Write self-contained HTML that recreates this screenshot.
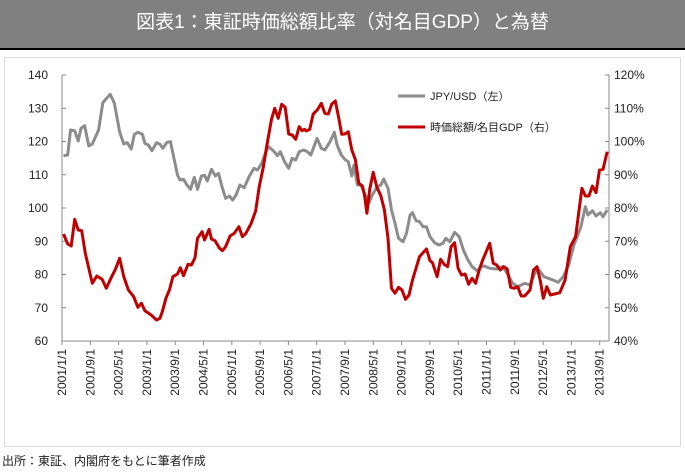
<!DOCTYPE html>
<html><head><meta charset="utf-8"><style>
body{margin:0;width:685px;height:476px;background:#fff;font-family:"Liberation Sans","Noto Sans CJK JP",sans-serif;overflow:hidden}
.t{position:absolute;left:0;top:0;width:685px;height:48px;background:#808080;border-bottom:2px solid #000;color:#fff;font-size:19px;text-align:center;line-height:46px}
.box{position:absolute;left:4px;top:57px;width:675px;height:388px;border:1px solid #d9d9d9}
.f{position:absolute;left:2px;top:452px;font-size:12px;color:#222}
</style></head><body>
<div class="t">図表1：東証時価総額比率（対名目GDP）と為替</div>
<div class="box"></div>
<svg id="s" width="685" height="476" style="position:absolute;left:0;top:0" font-family="Liberation Sans, Noto Sans CJK JP, sans-serif" font-size="12" fill="#222"></svg>
<div class="f">出所：東証、内閣府をもとに筆者作成</div>
<script>
var s=document.getElementById('s'),h='';
for(var i=0;i<=8;i++){var y=341-i*33.25;
h+='<text x="48" y="'+(y+4)+'" text-anchor="end">'+(60+i*10)+'</text>';
h+='<text x="614" y="'+(y+4)+'">'+(40+i*10)+'%</text>';
h+='<line x1="62" x2="66" y1="'+y+'" y2="'+y+'" stroke="#888"/><line x1="605" x2="609" y1="'+y+'" y2="'+y+'" stroke="#888"/>';}
h+='<line x1="62" y1="75" x2="62" y2="341" stroke="#888"/><line x1="609" y1="75" x2="609" y2="341" stroke="#888"/><line x1="62" y1="341" x2="609" y2="341" stroke="#888"/>';
for(var k=0;k<20;k++){var mm=k*8,yr=2001+Math.floor(mm/12),mo=mm%12+1;var x=62+k*28.3;
h+='<line x1="'+x+'" x2="'+x+'" y1="341" y2="345" stroke="#888"/>';
h+='<text transform="translate('+(x+4)+',349) rotate(-90)" text-anchor="end">'+yr+'/'+mo+'/1</text>';}
var g=[10,257,22,255,30,180,42,182,52,213,60,175,70,167,82,228,92,222,110,180,122,98,143,73,155,100,170,185,182,222,192,218,203,237,212,193,222,187,235,193,242,220,252,225,262,242,275,218,285,223,293,235,305,217,315,215,322,250,335,315,342,330,352,328,362,345,372,358,383,322,392,358,403,318,412,316,420,333,432,298,443,318,452,310,462,350,472,385,483,378,492,390,502,375,513,345,525,353,540,318,553,295,563,300,575,280,587,245,595,230,608,242,620,257,628,245,640,275,652,295,662,265,672,270,682,245,695,240,705,245,715,255,733,205,745,235,755,240,770,215,782,187,790,225,802,255,812,268,822,275,832,318,838,285,848,345,858,345,868,370,880,400,890,375,905,350,915,345,923,327,935,355,945,420,955,460,965,505,978,515,988,490,998,435,1005,428,1015,452,1025,455,1035,470,1045,470,1055,500,1068,518,1080,525,1092,520,1100,505,1112,515,1125,487,1138,500,1150,540,1162,568,1175,590,1190,603,1200,590,1210,588,1225,595,1245,597,1262,590,1275,610,1290,640,1305,650,1325,640,1340,645,1360,593,1380,620,1400,628,1420,637,1435,620,1450,585,1465,525,1485,470,1498,410,1505,435,1518,422,1528,438,1540,428,1548,440,1560,420];
var r=[10,492,22,522,32,528,42,448,52,480,62,482,72,550,82,595,92,640,105,618,120,628,132,655,145,625,158,598,170,565,182,620,195,660,210,680,222,712,232,700,242,722,260,735,275,750,285,745,293,720,302,685,312,660,322,620,335,612,343,593,352,617,365,583,375,585,385,563,392,505,405,485,412,510,425,478,432,507,442,512,455,535,463,542,472,530,485,498,497,490,510,470,520,500,530,490,545,460,558,422,568,350,580,290,590,225,603,148,612,115,622,145,632,103,642,112,652,192,662,195,672,208,682,170,690,182,697,178,702,183,712,178,722,132,735,118,745,100,755,130,765,132,775,102,785,93,795,145,803,193,812,192,822,185,832,240,842,268,852,340,862,348,868,375,875,430,883,358,893,307,903,350,915,378,925,420,935,505,945,655,955,670,965,652,975,660,985,688,995,675,1005,630,1015,595,1025,560,1035,548,1045,537,1055,572,1062,578,1075,620,1085,568,1095,583,1105,590,1115,530,1125,518,1135,595,1145,615,1155,612,1165,643,1175,625,1185,640,1195,600,1205,570,1215,545,1225,520,1235,580,1245,585,1255,600,1265,590,1275,597,1285,652,1295,655,1305,650,1315,678,1325,678,1340,660,1350,600,1360,590,1370,635,1378,685,1388,650,1398,675,1425,668,1440,630,1455,530,1470,500,1488,355,1498,378,1508,378,1518,348,1528,368,1538,300,1548,298,1560,245];
function pl(a,c){var p=[];for(var i=0;i<a.length;i+=2)p.push((60+a[i]/2.851).toFixed(1)+','+(70+a[i+1]/3).toFixed(1));return '<polyline fill="none" stroke="'+c+'" stroke-width="3" stroke-linejoin="round" points="'+p.join(' ')+'"/>';}
h+=pl(g,'#8c8c8c')+pl(r,'#c00000');
h+='<line x1="398" x2="425" y1="96" y2="96" stroke="#8c8c8c" stroke-width="3"/><text x="430" y="100" font-size="11">JPY/USD（左）</text>';
h+='<line x1="398" x2="425" y1="127" y2="127" stroke="#c00000" stroke-width="3"/><text x="430" y="131" font-size="11">時価総額/名目GDP（右）</text>';
s.innerHTML=h;
</script>
</body></html>
